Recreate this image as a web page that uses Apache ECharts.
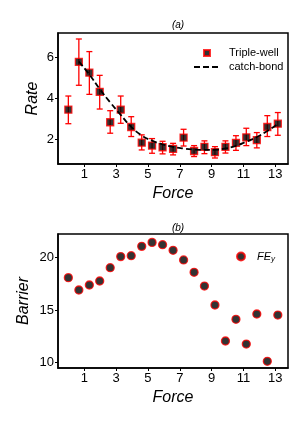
<!DOCTYPE html>
<html><head><meta charset="utf-8">
<script src="https://cdn.jsdelivr.net/npm/echarts@6/dist/echarts.min.js"></script>
<style>html,body{margin:0;padding:0;background:#fff}#c{width:305px;height:423px}</style>
</head><body><div id="c"></div>
<script>
const forces = [0,0.66,1.32,1.97,2.63,3.29,3.95,4.61,5.26,5.92,6.58,7.24,7.9,8.55,9.21,9.87,10.53,11.18,11.84,12.5,13.16];
const rate = [3.45,5.76,5.24,4.31,2.84,3.45,2.61,1.85,1.71,1.63,1.55,2.10,1.45,1.65,1.39,1.65,1.84,2.11,1.98,2.61,2.77];
const rateHigh = [4.11,6.87,6.26,5.11,3.40,4.11,3.11,2.23,2.05,1.92,1.82,2.50,1.71,1.94,1.66,1.94,2.19,2.55,2.34,3.16,3.31];
const rateLow = [2.77,4.63,4.19,3.48,2.31,2.79,2.15,1.50,1.34,1.31,1.26,1.69,1.18,1.32,1.11,1.35,1.48,1.71,1.60,2.15,2.21];
const fitForces = [0.66,1.32,1.97,2.63,3.29,3.95,4.61,5.26,5.92,6.58,7.24,7.9,8.55,9.21,9.87,10.53,11.18,11.84,12.5,13.16];
const fitRate = [5.78,5.15,4.45,3.8,3.2,2.62,2.2,1.95,1.77,1.65,1.57,1.52,1.5,1.51,1.57,1.7,1.9,2.13,2.42,2.76];
const barrier = [18.09,16.91,17.39,17.77,19.04,20.10,20.19,21.08,21.46,21.24,20.70,19.78,18.60,17.29,15.48,12.04,14.11,11.75,14.62,10.10,14.52];
const xTicks = [1,3,5,7,9,11,13];
const rateTicks = [2,4,6];
const barrierTicks = [10,15,20];

const FONT = '"Liberation Sans", Arial, sans-serif';
const chart = echarts.init(document.getElementById('c'), null, {renderer:'canvas'});

function xAxis(gi){
  return {
    type:'value', gridIndex:gi, min:-0.65, max:13.8,
    name:'Force', nameLocation:'middle', nameGap:22, nameMoveOverlap:false,
    nameTextStyle:{fontFamily:FONT, fontSize:16, fontStyle:'italic', color:'#000'},
    axisLine:{show:true, onZero:false, lineStyle:{color:'#000', width:1.5}},
    axisTick:{show:true, length:3, customValues:xTicks, lineStyle:{color:'#000', width:1}},
    axisLabel:{customValues:xTicks, fontFamily:FONT, fontSize:13, color:'#000', margin:4},
    splitLine:{show:false}
  };
}
function yAxis(gi, min, max, ticks, name, gap){
  return {
    type:'value', gridIndex:gi, min:min, max:max,
    name:name, nameLocation:'middle', nameGap:gap, nameMoveOverlap:false,
    nameTextStyle:{fontFamily:FONT, fontSize:16, fontStyle:'italic', color:'#000'},
    axisLine:{show:true, onZero:false, lineStyle:{color:'#000', width:1.5}},
    axisTick:{show:true, length:3, customValues:ticks, lineStyle:{color:'#000', width:1}},
    axisLabel:{customValues:ticks, fontFamily:FONT, fontSize:13, color:'#000', margin:4},
    splitLine:{show:false}
  };
}

const errData = forces.map((f,i)=>[f, rateLow[i], rateHigh[i]]);

chart.setOption({
  animation:false,
  title:[
    {text:'(a)', left:173, top:15, textAlign:'center', textStyle:{fontFamily:FONT, fontSize:10, fontWeight:'normal', fontStyle:'italic', color:'#000'}},
    {text:'(b)', left:173, top:218, textAlign:'center', textStyle:{fontFamily:FONT, fontSize:10, fontWeight:'normal', fontStyle:'italic', color:'#000'}}
  ],
  grid:[
    {left:58, top:33, width:230, height:131, show:true, borderColor:'#000', borderWidth:1.5, backgroundColor:'transparent'},
    {left:58, top:234, width:230, height:134, show:true, borderColor:'#000', borderWidth:1.5, backgroundColor:'transparent'}
  ],
  xAxis:[xAxis(0), xAxis(1)],
  yAxis:[yAxis(0,0.82,7.16,rateTicks,'Rate',17), yAxis(1,9.46,22.26,barrierTicks,'Barrier',26)],
  legend:[
    {data:[{name:'Triple-well', icon:'path://M0 0H1V1H0Z'}, {name:'catch-bond', itemStyle:{opacity:0}}], orient:'vertical', left:188, top:42, itemWidth:26, itemHeight:6, itemGap:2, selectedMode:false,
     textStyle:{fontFamily:FONT, fontSize:11, color:'#000', lineHeight:12, padding:[0,0,0,4]}},
    {data:[{name:'FE_y', icon:'path://M50 0A50 50 0 1 1 49.99 0Z'}], left:231, top:246, itemWidth:14, itemHeight:8, selectedMode:false,
     formatter:()=>'{a|FE}{b|y}',
     textStyle:{fontFamily:FONT, fontSize:11, color:'#000', padding:[0,0,0,4],
       rich:{a:{fontFamily:FONT, fontSize:11, fontStyle:'italic', color:'#000'}, b:{fontFamily:FONT, fontSize:8, fontStyle:'italic', color:'#000', padding:[5,0,0,0]}}}}
  ],
  series:[
    {type:'custom', xAxisIndex:0, yAxisIndex:0, data:errData, silent:true, z:1,
     renderItem:(params, api)=>{
       const x = api.value(0);
       const lo = api.coord([x, api.value(1)]);
       const hi = api.coord([x, api.value(2)]);
       const w = 3;
       const st = {stroke:'#ff0000', lineWidth:1.3};
       return {type:'group', children:[
         {type:'line', shape:{x1:lo[0], y1:lo[1], x2:hi[0], y2:hi[1]}, style:st},
         {type:'line', shape:{x1:lo[0]-w, y1:lo[1], x2:lo[0]+w, y2:lo[1]}, style:st},
         {type:'line', shape:{x1:hi[0]-w, y1:hi[1], x2:hi[0]+w, y2:hi[1]}, style:st}
       ]};
     }},
    {name:'Triple-well', type:'scatter', xAxisIndex:0, yAxisIndex:0, symbol:'rect', symbolSize:7, z:3,
     itemStyle:{color:'#000', borderColor:'#ff0000', borderWidth:1.3},
     data:forces.map((f,i)=>[f, rate[i]])},
    {name:'catch-bond', type:'line', xAxisIndex:0, yAxisIndex:0, symbol:'none', smooth:true, z:4,
     lineStyle:{color:'#000', width:1.8, type:[6,3]}, itemStyle:{color:'#000'},
     data:fitForces.map((f,i)=>[f, fitRate[i]])},
    {name:'FE_y', type:'scatter', xAxisIndex:1, yAxisIndex:1, symbol:'circle', symbolSize:8, z:3,
     itemStyle:{color:'#000', borderColor:'#ff0000', borderWidth:1.3},
     data:forces.map((f,i)=>[f, barrier[i]])}
  ]
});
</script></body></html>
